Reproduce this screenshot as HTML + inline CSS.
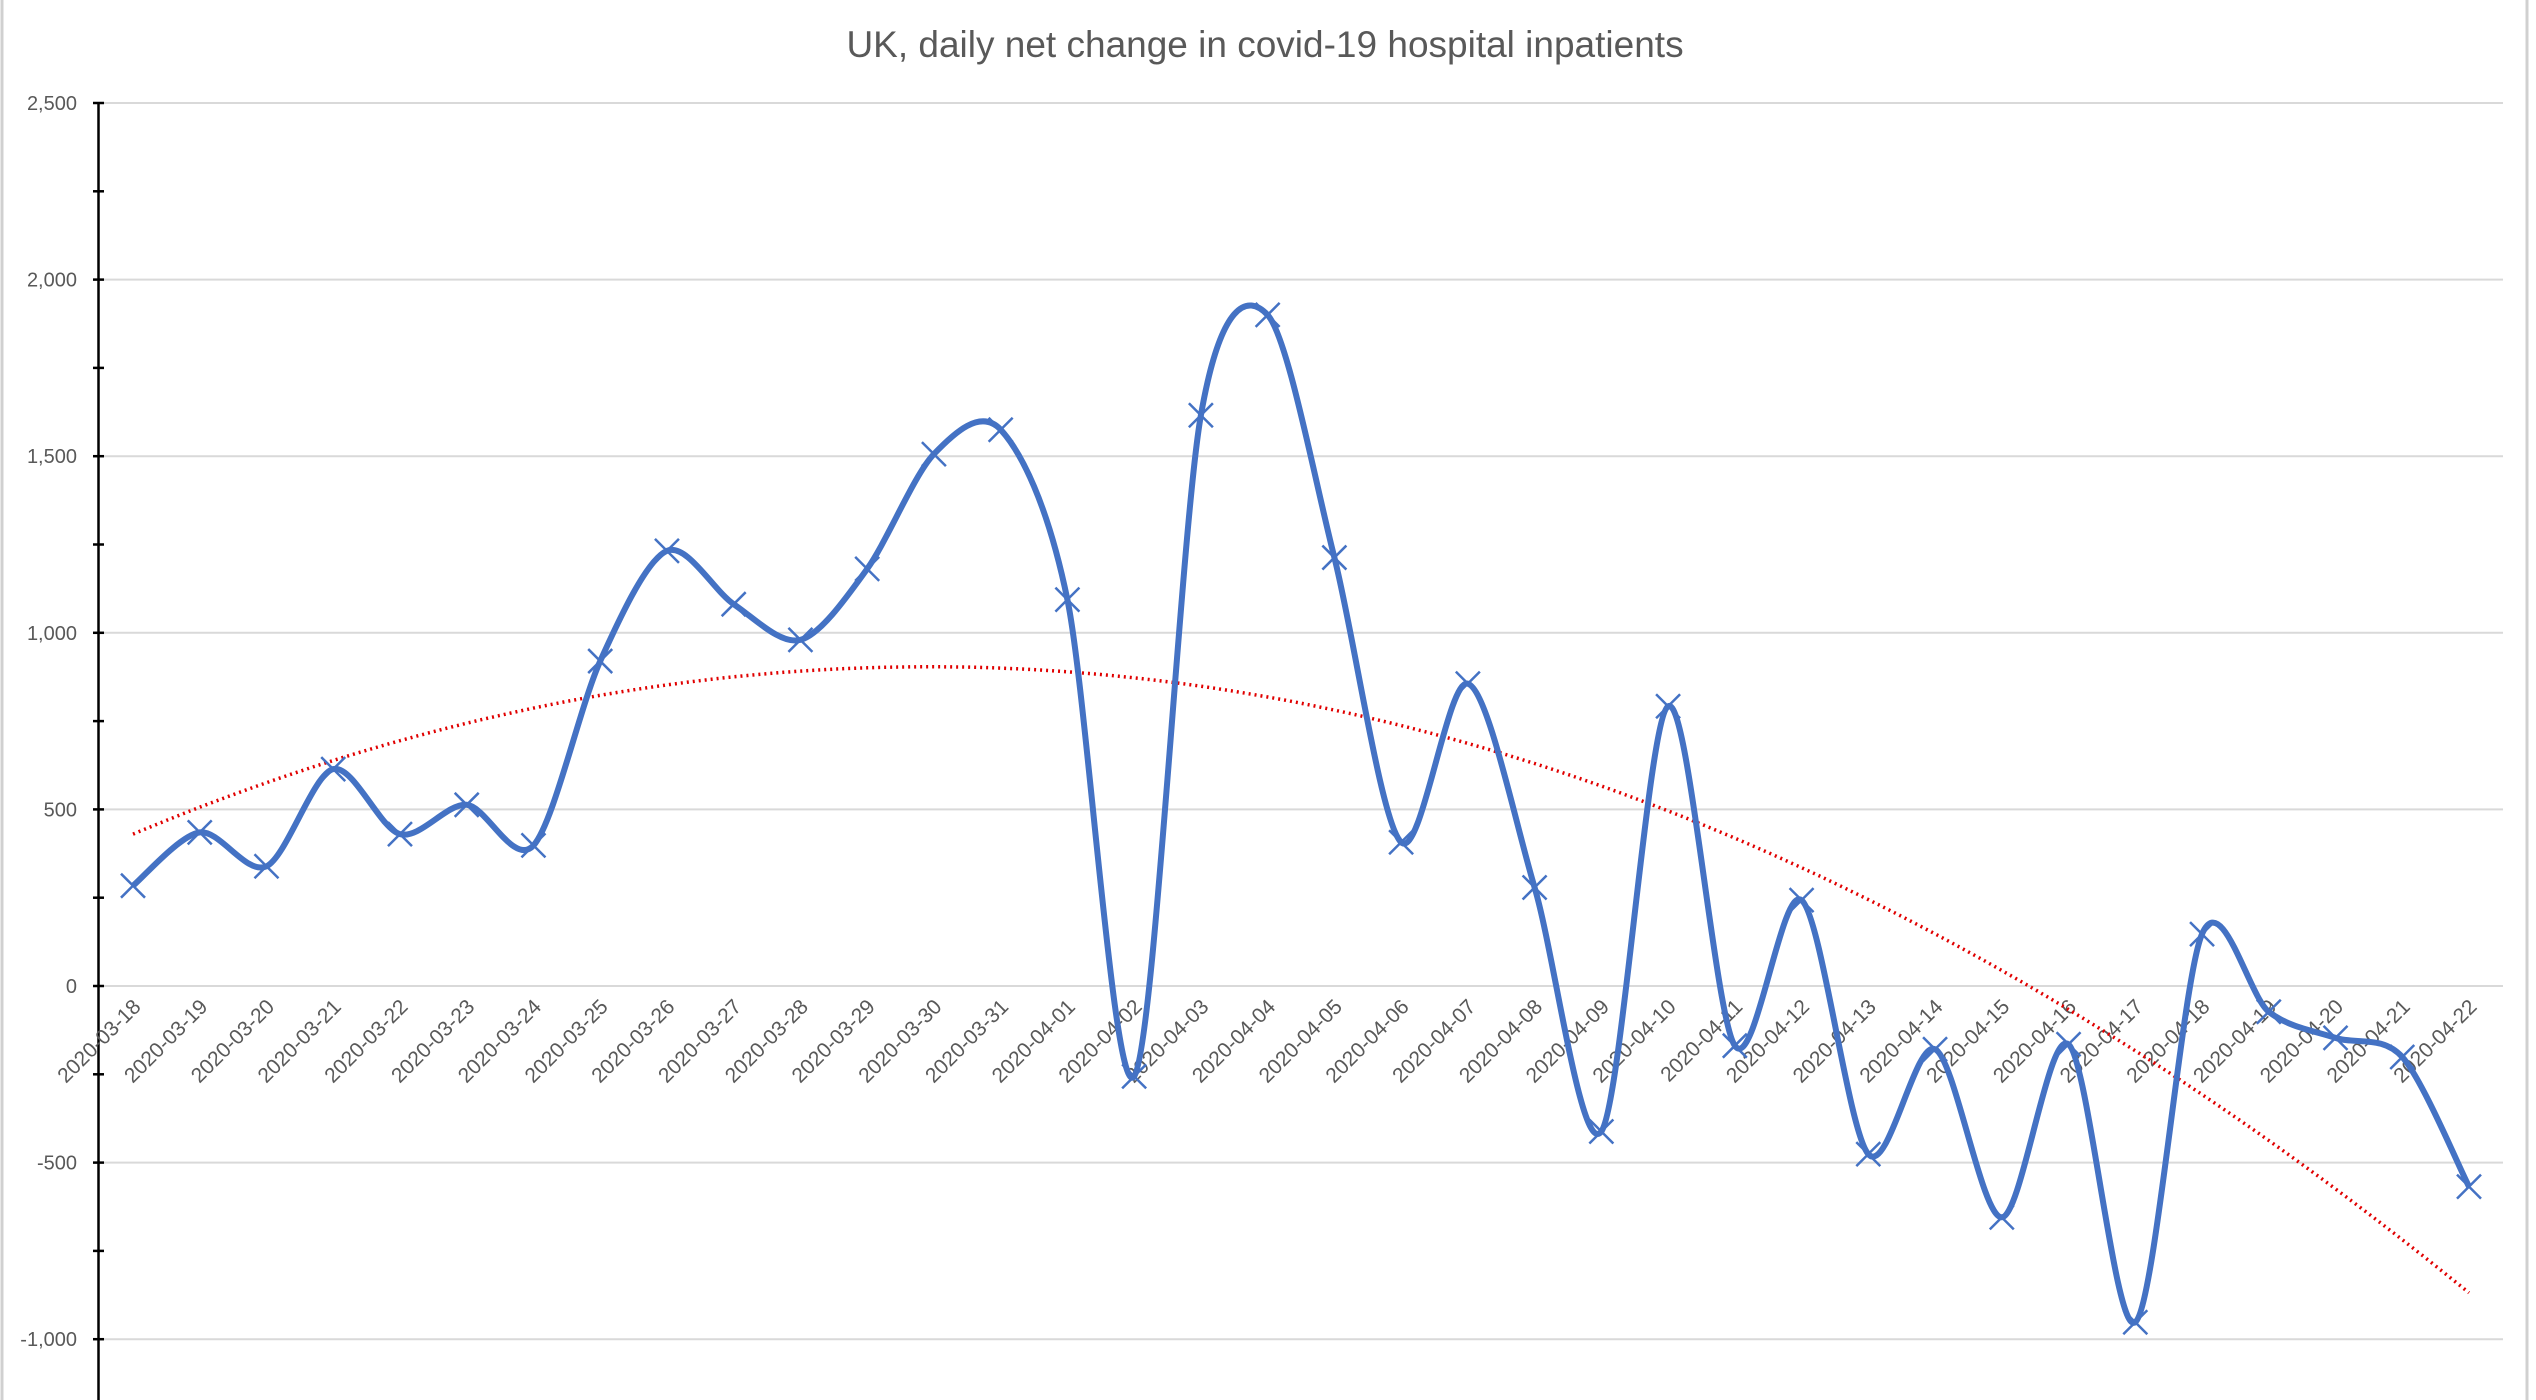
<!DOCTYPE html>
<html><head><meta charset="utf-8">
<style>
html,body{margin:0;padding:0;background:#fff;}
svg{display:block;}
text{font-family:"Liberation Sans",sans-serif;fill:#595959;}
</style></head>
<body>
<svg id="c" width="2536" height="1400" viewBox="0 0 2536 1400" xmlns="http://www.w3.org/2000/svg">
<rect x="0" y="0" width="2536" height="1400" fill="#fff"/>
<line x1="2" y1="0" x2="2" y2="1400" stroke="#d0d0d0" stroke-width="3"/>
<line x1="2527" y1="0" x2="2527" y2="1400" stroke="#d0d0d0" stroke-width="3"/>
<text x="1265" y="57" font-size="37" text-anchor="middle">UK, daily net change in covid-19 hospital inpatients</text>
<g id="g"></g>
</svg>
<script>
const g=document.getElementById('g');
const NS='http://www.w3.org/2000/svg';
function el(t,a,txt){const e=document.createElementNS(NS,t);for(const k in a)e.setAttribute(k,a[k]);if(txt!==undefined)e.textContent=txt;g.appendChild(e);return e;}
const Y=v=>986-v*0.3532;
const X0=133,DX=(2469-133)/35;
const X=i=>X0+i*DX;
for(let v=-1000;v<=2500;v+=500){
  el('line',{x1:99,y1:Y(v),x2:2503,y2:Y(v),stroke:'#d9d9d9','stroke-width':2});
  el('text',{x:77,y:Y(v)+7,'font-size':20,'text-anchor':'end'},v.toLocaleString('en-US'));
}
el('line',{x1:98.5,y1:Y(2500),x2:98.5,y2:1400,stroke:'#000','stroke-width':2.5});
for(let v=-1250;v<=2500;v+=250){
  el('line',{x1:93,y1:Y(v),x2:104,y2:Y(v),stroke:'#000','stroke-width':2.5});
}
const vals=[284,435,339,614,430,513,398,920,1232,1081,980,1181,1506,1575,1094,-256,1616,1900,1213,407,856,279,-412,792,-169,243,-476,-179,-655,-165,-952,147,-73,-147,-201,-568];
const start=new Date(Date.UTC(2020,2,18));
for(let i=0;i<36;i++){
  const d=new Date(start.getTime()+i*864e5);
  const s=d.toISOString().slice(0,10);
  const x=X(i)+9,y=1008;
  el('text',{x:x,y:y,'font-size':21,'text-anchor':'end',transform:`rotate(-45 ${x} ${y})`},s);
}
let tp='';
for(let t=0;t<=35;t+=0.25){const v=430+79.45*t-3.33*t*t;tp+=(t?'L':'M')+X(t).toFixed(1)+','+Y(v).toFixed(1);}
el('path',{d:tp,fill:'none',stroke:'#e00000','stroke-width':3.5,'stroke-dasharray':'2 4'});
const P=vals.map((v,i)=>[X(i),Y(v)]);
let d='M'+P[0][0]+','+P[0][1];
const k=0.15;
for(let i=0;i<P.length-1;i++){
  const p0=P[i-1]||P[i],p1=P[i],p2=P[i+1],p3=P[i+2]||P[i+1];
  const c1=[p1[0]+(p2[0]-p0[0])*k,p1[1]+(p2[1]-p0[1])*k];
  const c2=[p2[0]-(p3[0]-p1[0])*k,p2[1]-(p3[1]-p1[1])*k];
  d+=`C${c1[0].toFixed(1)},${c1[1].toFixed(1)} ${c2[0].toFixed(1)},${c2[1].toFixed(1)} ${p2[0].toFixed(1)},${p2[1].toFixed(1)}`;
}
el('path',{d:d,fill:'none',stroke:'#4472C4','stroke-width':6,'stroke-linejoin':'round'});
for(const [x,y] of P){
  const s=12;
  el('path',{d:`M${x-s},${y-s}L${x+s},${y+s}M${x-s},${y+s}L${x+s},${y-s}`,stroke:'#4472C4','stroke-width':2.5,fill:'none'});
}
</script>
</body></html>
